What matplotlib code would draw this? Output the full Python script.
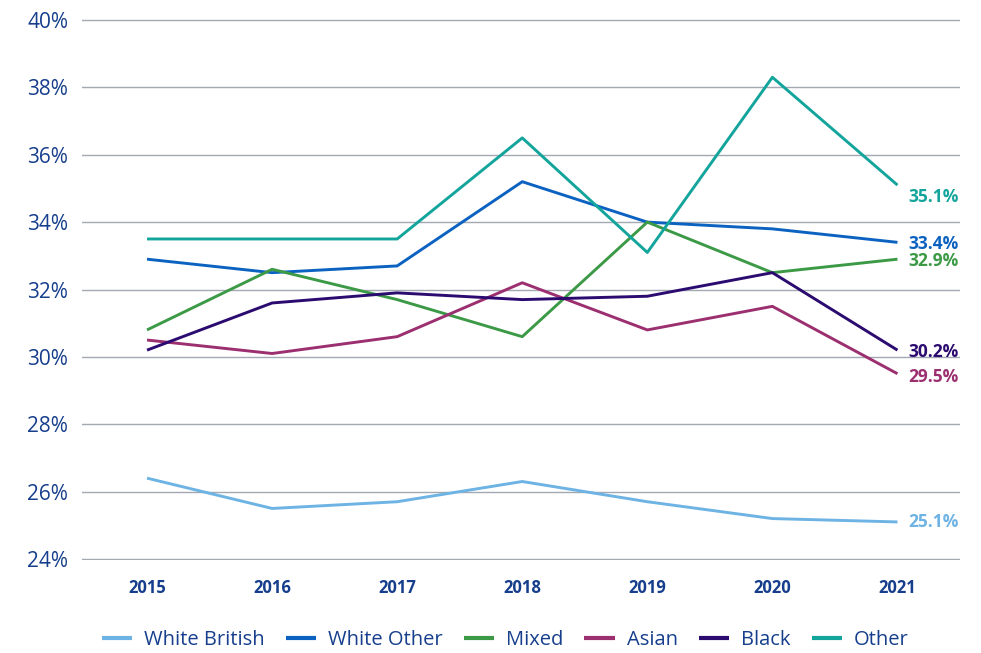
import matplotlib
matplotlib.use('Agg')
import matplotlib.pyplot as plt

plt.rcParams['font.family'] = ['Open Sans', 'DejaVu Sans']

years = ['2015', '2016', '2017', '2018', '2019', '2020', '2021']

white_british = [26.4, 25.5, 25.7, 26.3, 25.7, 25.2, 25.1]
white_other = [32.9, 32.5, 32.7, 35.2, 34.0, 33.8, 33.4]
mixed = [30.8, 32.6, 31.7, 30.6, 34.0, 32.5, 32.9]
asian = [30.5, 30.1, 30.6, 32.2, 30.8, 31.5, 29.5]
black = [30.2, 31.6, 31.9, 31.7, 31.8, 32.5, 30.2]
other = [33.5, 33.5, 33.5, 36.5, 33.1, 38.3, 35.1]

# name, values, colour, vertical nudge of the end label (in % units)
series = [
    ('White British', white_british, '#6DB3E3', 0.0),
    ('White Other', white_other, '#0B62C0', -0.05),
    ('Mixed', mixed, '#3C9A47', -0.05),
    ('Asian', asian, '#9B2F6F', -0.1),
    ('Black', black, '#2B0B70', -0.05),
    ('Other', other, '#13A59C', -0.35),
]

text_col = '#163E8C'

fig = plt.figure(figsize=(9.81, 6.53), dpi=100)
ax = fig.add_axes([82 / 981, 1 - 560 / 653, (960 - 82) / 981, (560 - 19) / 653])

x = list(range(len(years)))
for name, vals, col, dy in series:
    ax.plot(x, vals, color=col, lw=2.1, label=name, solid_capstyle='butt')
    ax.text(x[-1] + 0.09, vals[-1] + dy, f'{vals[-1]:.1f}%', color=col,
            fontsize=12.5, fontweight='bold', va='center', ha='left')

ax.set_xlim(-0.52, 6.5)
ax.set_ylim(23.97, 40.03)
ax.set_yticks(range(24, 41, 2))
ax.set_yticklabels([f'{v}%' for v in range(24, 41, 2)])
ax.set_xticks(x)
ax.set_xticklabels(years)

ax.grid(axis='y', color='#A3A8B2', lw=1)
ax.set_axisbelow(True)
for s in ax.spines.values():
    s.set_visible(False)
ax.tick_params(axis='both', length=0, colors=text_col)
ax.tick_params(axis='y', labelsize=15, pad=10)
ax.tick_params(axis='x', labelsize=12, pad=14)
for lbl in ax.get_xticklabels():
    lbl.set_fontweight('bold')

leg = fig.legend(loc='lower center', bbox_to_anchor=(0.515, -0.023), ncol=6,
                 frameon=False, fontsize=14.5, handlelength=1.5,
                 columnspacing=1.05, handletextpad=0.6)
for t in leg.get_texts():
    t.set_color(text_col)
for h in leg.legend_handles:
    h.set_linewidth(3)

fig.savefig('out.png', dpi=100)
plt.close()
